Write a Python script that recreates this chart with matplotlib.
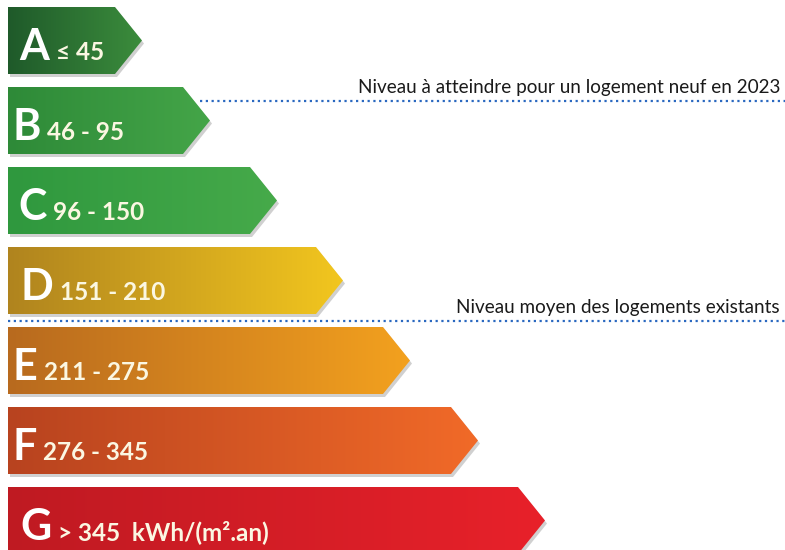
import numpy as np
import matplotlib
matplotlib.use("Agg")
import matplotlib.pyplot as plt
from matplotlib.patches import Polygon
from matplotlib.colors import to_rgb

# ---- data ----
classes = ["A", "B", "C", "D", "E", "F", "G"]
ranges = ["≤ 45", "46 - 95", "96 - 150", "151 - 210", "211 - 275", "276 - 345",
          "> 345  kWh/(m².an)"]
arrow_ends = [142, 210, 277, 343, 410, 478, 545]
colors_left = ["#1f5a2a", "#2e8a38", "#2f983e", "#b0841e", "#b86a1e", "#b8431f", "#bf1a22"]
colors_right = ["#3b8c3c", "#44a548", "#46aa4a", "#f2c61f", "#f3a11f", "#f16a28", "#e8212a"]
levels_text = ["Niveau à atteindre pour un logement neuf en 2023",
               "Niveau moyen des logements existants"]
levels_after_class = ["A", "D"]

# ---- layout ----
W, H = 785, 550
fig = plt.figure(figsize=(W / 100, H / 100), dpi=100)
ax = fig.add_axes([0, 0, 1, 1])
ax.set_xlim(0, W)
ax.set_ylim(H, 0)
ax.axis("off")

x0 = 8
row_step = 80
first_center = 40.5
half_h = 33.5
tip_w = 27
font = ["Lato", "DejaVu Sans"]
letter_x = [19, 12, 18, 20, 12, 12, 20]

for i, (c, r, end, cl, cr) in enumerate(zip(classes, ranges, arrow_ends, colors_left, colors_right)):
    yc = first_center + row_step * i
    pts = [(x0, yc - half_h), (end - tip_w, yc - half_h), (end, yc),
           (end - tip_w, yc + half_h), (x0, yc + half_h)]
    sh = Polygon([(px + 2, py + 3) for px, py in pts], closed=True,
                 facecolor="#8a8a8a", edgecolor="none", alpha=0.4, zorder=1)
    ax.add_patch(sh)
    poly = Polygon(pts, closed=True, facecolor="none", edgecolor="none", zorder=2)
    ax.add_patch(poly)
    t = np.linspace(0, 1, 256)[None, :, None]
    grad = (1 - t) * np.array(to_rgb(cl))[None, None, :] + t * np.array(to_rgb(cr))[None, None, :]
    im = ax.imshow(grad, extent=(x0, end, yc + half_h, yc - half_h), aspect="auto",
                   zorder=2, interpolation="bilinear")
    im.set_clip_path(poly)
    base = yc + 20
    lt = ax.text(letter_x[i], base, c, color="white", fontsize=31, fontweight="bold",
                 family=font, va="baseline", ha="left", zorder=3)
    ax.annotate(r, xy=(1, base), xycoords=(lt, "data"), xytext=(5, 0),
                textcoords="offset points", color="#fbf7e2", fontsize=17.5,
                fontweight="bold", family=font, va="baseline", ha="left", zorder=3)

ax.set_xlim(0, W)
ax.set_ylim(H, 0)

# threshold lines
line_offsets = [20.5, 0]   # relative to the boundary just below the class
for txt, cls, off in zip(levels_text, levels_after_class, line_offsets):
    i = classes.index(cls)
    ysep = first_center + row_step * (i + 0.5) + off
    if cls == "A":
        yc_next = first_center + row_step * (i + 1)
        end = arrow_ends[i + 1]
        top = yc_next - half_h
        xs = end - tip_w + (ysep - top) / half_h * tip_w + 6
    else:
        xs = x0
    ax.plot([xs, W], [ysep, ysep], color="#2a68c0", lw=1.6,
            linestyle=(0, (1, 1.6)), zorder=4, solid_capstyle="butt")
    ax.text(W - 5, ysep - 7.5, txt, color="#1a1a1a", fontsize=13.6, family=font,
            ha="right", va="baseline", zorder=4)

fig.savefig("out.png", dpi=100, facecolor="white")
